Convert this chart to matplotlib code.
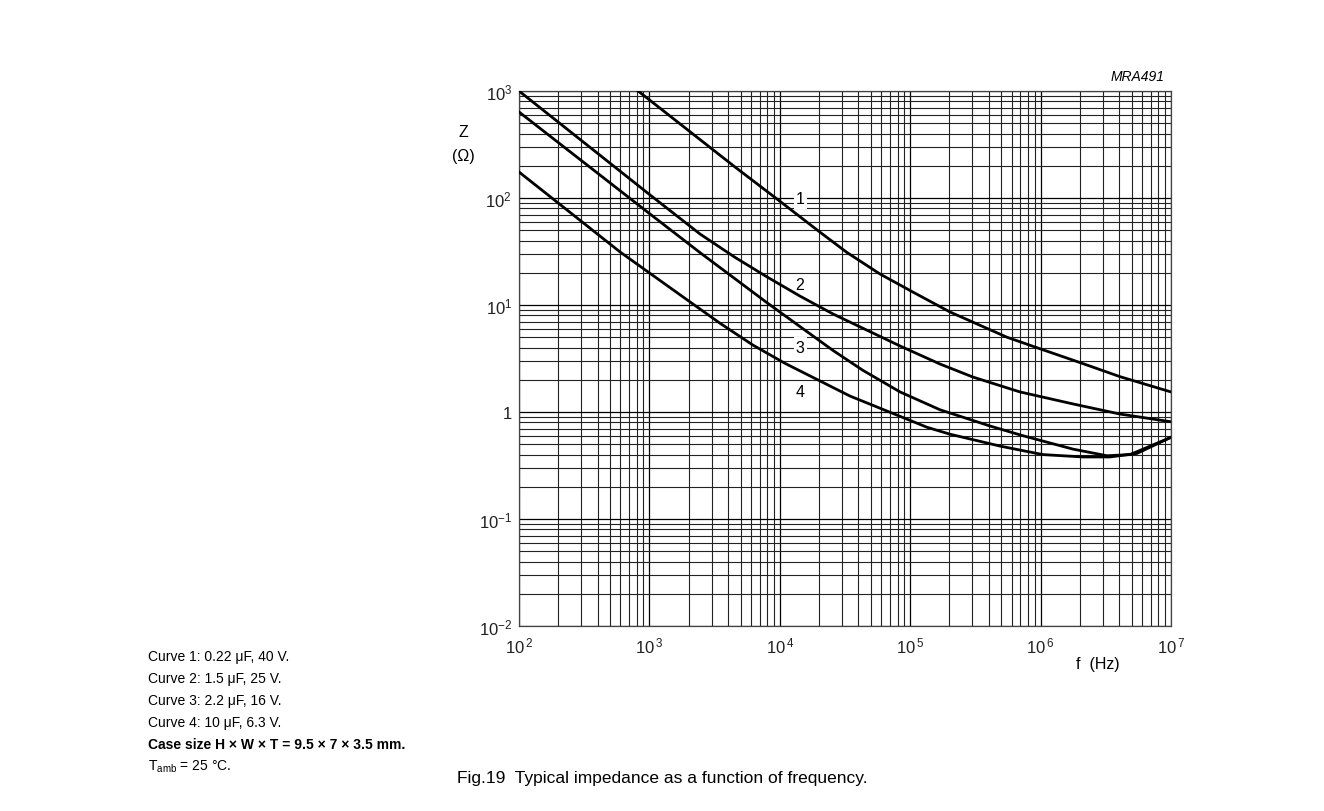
import math
import matplotlib
matplotlib.use('Agg')
import matplotlib.pyplot as plt
from matplotlib.ticker import LogLocator, FuncFormatter, NullFormatter

plt.rcParams['font.family'] = ['Liberation Sans', 'DejaVu Sans']
plt.rcParams['mathtext.fontset'] = 'custom'
plt.rcParams['mathtext.rm'] = 'Liberation Sans'
plt.rcParams['mathtext.it'] = 'Liberation Sans:italic'
plt.rcParams['mathtext.bf'] = 'Liberation Sans:bold'

# valeurs (f en Hz, Z en ohm)
f1 = [819, 4530, 9500, 20300, 32700, 58600, 105000, 202000, 552000, 989000, 2.0e6, 4.06e6, 1e7]
z1 = [1000, 195, 98, 48, 31, 19.5, 13.2, 8.6, 5.0, 3.9, 2.9, 2.14, 1.54]

f2 = [100, 1000, 2443, 4530, 7980, 14300, 25600, 83600, 169000, 303000, 695000, 1.77e6, 4.06e6, 1e7]
z2 = [1000, 108, 46.1, 27.9, 18.3, 12.1, 8.24, 4.14, 2.81, 2.12, 1.54, 1.19, 0.957, 0.81]

f3 = [100, 1000, 2443, 7980, 25600, 43400, 83600, 169000, 409000, 733000, 1.77e6, 3.23e6, 4.85e6, 1e7]
z3 = [637, 71.6, 30.9, 10.5, 3.76, 2.45, 1.54, 1.05, 0.74, 0.60, 0.45, 0.39, 0.40, 0.58]

f4 = [100, 596, 1941, 3475, 6220, 10960, 34500, 134600, 202000, 489000, 1.04e6, 2.11e6, 3.4e6, 5.48e6, 1e7]
z4 = [175, 31.3, 11.2, 6.76, 4.22, 2.85, 1.41, 0.72, 0.62, 0.48, 0.40, 0.38, 0.38, 0.41, 0.58]

legende = ['Curve 1: 0.22 \u03bcF, 40 V.',
           'Curve 2: 1.5 \u03bcF, 25 V.',
           'Curve 3: 2.2 \u03bcF, 16 V.',
           'Curve 4: 10 \u03bcF, 6.3 V.']

fig = plt.figure(figsize=(13.24, 8.12), dpi=100)
ax = fig.add_axes([519/1324, 1 - 627/812, 652/1324, 535/812])

for f, z in [(f1, z1), (f2, z2), (f3, z3), (f4, z4)]:
    ax.plot(f, z, color='black', lw=2.0, solid_joinstyle='round', zorder=3)

ax.set_xscale('log')
ax.set_yscale('log')
ax.set_xlim(1e2, 1e7)
ax.set_ylim(1e-2, 1e3)

ax.xaxis.set_major_locator(LogLocator(base=10, numticks=10))
ax.yaxis.set_major_locator(LogLocator(base=10, numticks=10))
ax.xaxis.set_minor_locator(LogLocator(base=10, subs=range(2, 10), numticks=20))
ax.yaxis.set_minor_locator(LogLocator(base=10, subs=range(2, 10), numticks=20))
ax.xaxis.set_minor_formatter(NullFormatter())
ax.yaxis.set_minor_formatter(NullFormatter())


def fmt_x(v, pos):
    e = int(round(math.log10(v)))
    return r'$10^{\,%d}$' % e


def fmt_y(v, pos):
    e = int(round(math.log10(v)))
    if e == 0:
        return '1'
    return r'$10^{%d}$' % e


ax.xaxis.set_major_formatter(FuncFormatter(fmt_x))
ax.yaxis.set_major_formatter(FuncFormatter(fmt_y))
ax.tick_params(which='both', length=0, labelsize=12, colors='#222222')
ax.tick_params(axis='x', pad=7)
ax.tick_params(axis='y', pad=5)

ax.grid(True, which='major', color='black', lw=0.9)
ax.grid(True, which='minor', color='#222222', lw=0.8)
for s in ax.spines.values():
    s.set_color('#444444')
    s.set_linewidth(0.9)

# etiquettes des courbes
ax.text(14300, 98, '1', fontsize=11.5, ha='center', va='center', zorder=4,
        bbox=dict(facecolor='white', edgecolor='none', pad=1.5))
ax.text(14300, 15.7, '2', fontsize=11.5, ha='center', va='center', zorder=4)
ax.text(14300, 4.05, '3', fontsize=11.5, ha='center', va='center', zorder=4,
        bbox=dict(facecolor='white', edgecolor='none', pad=1.5))
ax.text(14300, 1.54, '4', fontsize=11.5, ha='center', va='center', zorder=4)

fig.text(463/1324, 1 - 133/812, 'Z', fontsize=11.5, ha='center', va='center')
fig.text(463/1324, 1 - 156/812, '(\u03a9)', fontsize=11.5, ha='center', va='center')
fig.text(1165/1324, 1 - 77/812, 'MRA491', fontsize=10, style='italic', ha='right', va='center')
fig.text(1098/1324, 1 - 665/812, 'f  (Hz)', fontsize=11.5, ha='center', va='center')

y0 = 657
for i, t in enumerate(legende):
    fig.text(148/1324, 1 - (y0 + 22*i)/812, t, fontsize=10, ha='left', va='center')
fig.text(148/1324, 1 - (y0 + 88)/812, 'Case size H \u00d7 W \u00d7 T = 9.5 \u00d7 7 \u00d7 3.5 mm.',
         fontsize=10, fontweight='bold', ha='left', va='center')
fig.text(148/1324, 1 - (y0 + 110)/812, 'T$_{\\rm amb}$ = 25 \u00b0C.', fontsize=10, ha='left', va='center')

fig.text(662/1324, 1 - 779/812, 'Fig.19  Typical impedance as a function of frequency.',
         fontsize=12.5, ha='center', va='center')

fig.savefig('out.png', dpi=100)
